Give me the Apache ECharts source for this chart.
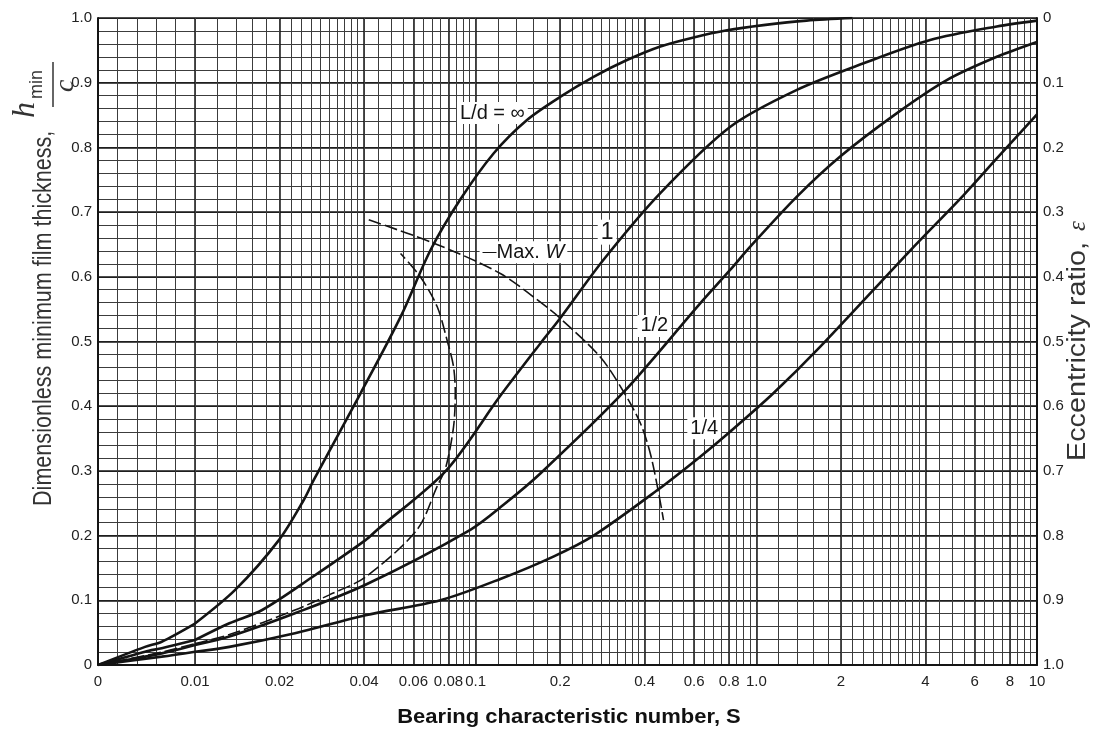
<!DOCTYPE html>
<html>
<head>
<meta charset="utf-8">
<script src="https://cdn.jsdelivr.net/npm/echarts@6/dist/echarts.min.js"></script>
<style>
  html, body { margin: 0; padding: 0; background: #fff; }
  #chart { width: 1097px; height: 733px; }
</style>
</head>
<body>
<div id="chart"></div>
<script>
// Raimondi-Boyd chart: h_min/c against bearing characteristic number S
// points are [S, h_min/c]
const ldInf = [[0,0],[0.00485,0.028],[0.00657,0.036],[0.01,0.064],[0.0139,0.116],[0.0199,0.193],[0.0244,0.255],[0.0265,0.286],[0.0389,0.42],[0.054,0.538],[0.069,0.641],[0.088,0.719],[0.116,0.791],[0.152,0.842],[0.2,0.878],[0.263,0.909],[0.346,0.935],[0.455,0.956],[0.598,0.97],[0.786,0.981],[1.06,0.989],[1.51,0.996],[2.2,1.0]];
const ld1 = [[0,0],[0.00485,0.0206],[0.00657,0.026],[0.01,0.0386],[0.01326,0.0645],[0.01735,0.085],[0.0262,0.136],[0.0405,0.193],[0.0446,0.209],[0.0783,0.3],[0.1224,0.416],[0.17,0.497],[0.2,0.536],[0.285,0.626],[0.454,0.729],[0.808,0.832],[1.395,0.889],[2.41,0.93],[4.16,0.966],[7.19,0.987],[10,0.996]];
const ldHalf = [[0,0],[0.00657,0.018],[0.01,0.031],[0.01326,0.044],[0.0227,0.08],[0.0405,0.124],[0.0957,0.209],[0.126,0.248],[0.17,0.296],[0.337,0.422],[0.631,0.559],[0.808,0.611],[0.953,0.647],[1.395,0.724],[1.99,0.786],[3.17,0.853],[4.77,0.904],[7.19,0.94],[10,0.963]];
const ldQuarter = [[0,0],[0.00657,0.0129],[0.01,0.0206],[0.01326,0.028],[0.0227,0.049],[0.0405,0.077],[0.0748,0.1],[0.1224,0.133],[0.19,0.168],[0.263,0.2],[0.443,0.27],[0.631,0.322],[0.808,0.361],[1.15,0.42],[1.69,0.492],[3.54,0.641],[5.47,0.726],[7.19,0.783],[10,0.851]];
const maxW = [[0.0416,0.688],[0.0709,0.652],[0.1224,0.605],[0.1845,0.549],[0.2,0.536],[0.278,0.476],[0.337,0.422],[0.386,0.374],[0.419,0.327],[0.449,0.265],[0.467,0.224]];
const minFriction = [[0,0],[0.00657,0.02],[0.01,0.033],[0.01326,0.047],[0.0227,0.085],[0.03,0.108],[0.0405,0.136],[0.0618,0.209],[0.0729,0.276],[0.0783,0.306],[0.0834,0.368],[0.0846,0.42],[0.0834,0.461],[0.0791,0.502],[0.0729,0.554],[0.0635,0.6],[0.054,0.636]];

// tick labels
const sLabelsLin = [0, 0.01];
const sLabelsLog = [0.02, 0.04, 0.06, 0.08, 0.1, 0.2, 0.4, 0.6, 0.8, 1, 2, 4, 6, 8, 10];
const hLabels = [0, 0.1, 0.2, 0.3, 0.4, 0.5, 0.6, 0.7, 0.8, 0.9, 1.0];
// log paper rulings inside each decade
const decades = [0.01, 0.1, 1];
const decadeRulings = [1, 1.2, 1.4, 1.6, 1.8, 2, 2.2, 2.4, 2.6, 2.8, 3, 3.2, 3.4, 3.6, 3.8, 4, 4.5, 5, 5.5, 6, 6.5, 7, 7.5, 8, 8.5, 9, 9.5];

const curveLabels = [
    { text: 'L/d = \u221e', at: [0.1147, 0.853] },
    { text: '{big|1}', at: [0.294, 0.669] },
    { text: '1/2', at: [0.433, 0.524] },
    { text: '1/4', at: [0.652, 0.366] },
    { text: '{d|\u2014}Max. {w|W}', at: [0.148, 0.638] }
];

const FONT = "'Liberation Sans Narrow', 'Liberation Sans', Arial, sans-serif";
const INK = '#141414';
const MINOR = '#3c3c3c';

const logMinor = [];
decades.forEach(d => decadeRulings.forEach(m => logMinor.push(+(d * m).toPrecision(3))));
logMinor.push(10);
const logMajor = [0.01].concat(sLabelsLog);

const chart = echarts.init(document.getElementById('chart'));

const fmtS = v => {
    if (v === 0) return '0';
    if (Math.abs(v - 1) < 1e-9) return '1.0';
    return String(+(+v).toPrecision(2));
};
const fmtH = v => (v === 0 ? '0' : (+v).toFixed(1));
const fmtEps = v => {
    const e = Math.round((1 - v) * 10) / 10;
    return e === 0 ? '0' : e.toFixed(1);
};

const linPart = pts => pts.filter(p => p[0] <= 0.01);
const logPart = pts => pts.filter(p => p[0] >= 0.01);

const solid = { color: INK, width: 2.6 };
const dashed = { color: INK, width: 1.6, type: [13, 4] };

const series = [];
[[ldInf, solid], [ld1, solid], [ldHalf, solid], [ldQuarter, solid], [minFriction, dashed], [maxW, dashed]].forEach(([pts, style], i) => {
    const a = linPart(pts);
    if (a.length > 1) {
        series.push({
            type: 'line', xAxisIndex: 0, yAxisIndex: 0, data: a,
            symbol: 'none', smooth: 0.3, lineStyle: style, z: 5, silent: true
        });
    }
    const s = {
        type: 'line', xAxisIndex: 1, yAxisIndex: 3, data: logPart(pts),
        symbol: 'none', smooth: 0.3, lineStyle: style, z: 5, silent: true
    };
    if (i === 0) {
        s.markPoint = {
            symbol: 'rect', symbolSize: 1, itemStyle: { color: 'transparent' },
            label: {
                show: true, position: 'inside', color: INK, fontFamily: 'Liberation Sans, Arial',
                fontSize: 20, backgroundColor: '#fff', padding: [1, 3],
                formatter: p => p.name,
                rich: {
                    d: { fontSize: 14, color: INK, fontFamily: 'Liberation Sans' },
                    w: { fontStyle: 'italic', fontSize: 20, color: INK, fontFamily: 'Liberation Sans' },
                    big: { fontSize: 23, color: INK, fontFamily: 'Liberation Sans' }
                }
            },
            data: curveLabels.map(l => ({ name: l.text, coord: l.at }))
        };
    }
    series.push(s);
});

const labelStyle = { color: '#222', fontFamily: FONT, fontSize: 15 };

const option = {
    animation: false,
    grid: [
        { left: 98, top: 18, width: 97, height: 647, outerBoundsMode: 'none' },
        { left: 195, top: 18, width: 842, height: 647, outerBoundsMode: 'none' }
    ],
    xAxis: [
        {
            gridIndex: 0, type: 'value', min: 0, max: 0.01, interval: 0.002,
            axisLine: { lineStyle: { color: INK, width: 2 } },
            axisTick: { show: false },
            axisLabel: { customValues: sLabelsLin, formatter: fmtS, margin: 9, fontSize: 15, color: '#222', fontFamily: FONT },
            splitLine: { show: true, lineStyle: { color: MINOR, width: 1 } }
        },
        {
            gridIndex: 1, type: 'log', logBase: 10, min: 0.01, max: 10, position: 'bottom',
            axisLine: { lineStyle: { color: INK, width: 2 } },
            axisTick: { show: false, customValues: logMajor },
            axisLabel: { customValues: sLabelsLog, formatter: fmtS, margin: 9, fontSize: 15, color: '#222', fontFamily: FONT, hideOverlap: false },
            splitLine: { show: true, lineStyle: { color: INK, width: 1.5 } }
        },
        {
            gridIndex: 1, type: 'log', logBase: 10, min: 0.01, max: 10, position: 'top',
            axisLine: { show: false },
            axisTick: { show: false, customValues: logMinor },
            axisLabel: { show: false },
            splitLine: { show: true, lineStyle: { color: MINOR, width: 1 } }
        }
    ],
    yAxis: [
        {
            gridIndex: 0, type: 'value', min: 0, max: 1, interval: 0.02, position: 'left',
            axisLine: { show: true, lineStyle: { color: INK, width: 2 } },
            axisTick: { show: false },
            axisLabel: Object.assign({ customValues: hLabels, formatter: fmtH, margin: 6 }, labelStyle),
            splitLine: { show: true, lineStyle: { color: MINOR, width: 1 } }
        },
        {
            gridIndex: 0, type: 'value', min: 0, max: 1, interval: 0.1, position: 'right',
            axisLine: { show: false }, axisTick: { show: false }, axisLabel: { show: false },
            splitLine: { show: true, lineStyle: { color: INK, width: 1.6 } }
        },
        {
            gridIndex: 1, type: 'value', min: 0, max: 1, interval: 0.02, position: 'left',
            axisLine: { show: false }, axisTick: { show: false }, axisLabel: { show: false },
            splitLine: { show: true, lineStyle: { color: MINOR, width: 1 } }
        },
        {
            gridIndex: 1, type: 'value', min: 0, max: 1, interval: 0.1, position: 'right',
            axisLine: { show: true, lineStyle: { color: INK, width: 2 } },
            axisTick: { show: false },
            axisLabel: Object.assign({ formatter: fmtEps, margin: 6 }, labelStyle),
            splitLine: { show: true, lineStyle: { color: INK, width: 1.6 } }
        }
    ],
    graphic: [
        {
            type: 'group', rotation: Math.PI / 2, x: 44, y: 506,
            children: [
                { type: 'text', x: 0, y: 0, scaleX: 0.83, style: { text: 'Dimensionless minimum film thickness,', font: '26px "Liberation Sans", Arial', fill: '#333', verticalAlign: 'middle' } },
                { type: 'text', x: 388, y: -2, style: { text: 'h', font: 'italic 32px "Liberation Serif", serif', fill: '#333', verticalAlign: 'bottom' } },
                { type: 'text', x: 407, y: 2, style: { text: 'min', font: '18px "Liberation Sans", Arial', fill: '#333', verticalAlign: 'bottom' } },
                { type: 'line', shape: { x1: 399, y1: 9, x2: 444, y2: 9 }, style: { stroke: '#333', lineWidth: 1.5 } },
                { type: 'text', x: 414, y: 8, style: { text: 'c', font: 'italic 28px "Liberation Serif", serif', fill: '#333', verticalAlign: 'top' } }
            ]
        },
        {
            type: 'group', rotation: Math.PI / 2, x: 1078, y: 461,
            children: [
                { type: 'text', x: 0, y: 0, scaleX: 1.15, style: { text: 'Eccentricity ratio,', font: '25px "Liberation Sans", Arial', fill: '#333', align: 'left', verticalAlign: 'middle' } },
                { type: 'text', x: 230, y: 0, style: { text: '\u03b5', font: 'italic 25px "Liberation Serif", serif', fill: '#333', align: 'left', verticalAlign: 'middle' } }
            ]
        },
        {
            type: 'text', x: 569, y: 717, scaleX: 1.1,
            style: { text: 'Bearing characteristic number, S', font: 'bold 20px "Liberation Sans", Arial', fill: '#111', align: 'center', verticalAlign: 'middle' }
        }
    ],
    series: series
};

chart.setOption(option);
</script>
</body>
</html>
